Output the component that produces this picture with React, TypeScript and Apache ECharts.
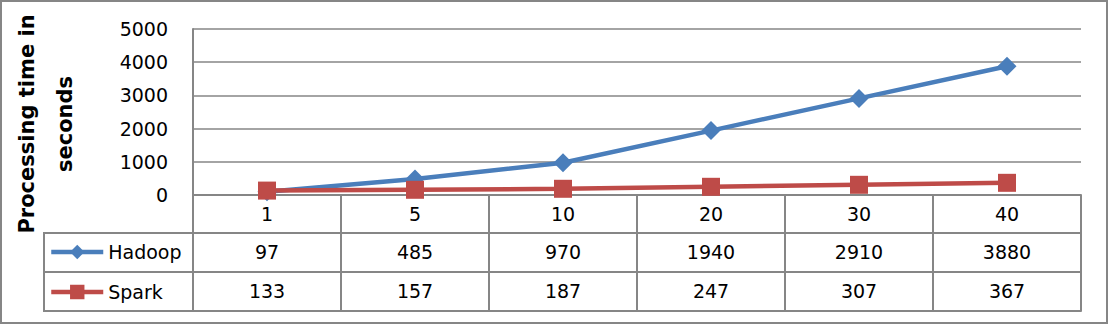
import React, { useEffect, useRef } from "react";
import * as echarts from "echarts";

const categories = ["1", "5", "10", "20", "30", "40"];
const hadoop = [97, 485, 970, 1940, 2910, 3880];
const spark = [133, 157, 187, 247, 307, 367];
const yMin = 0;
const yMax = 5000;
const yInterval = 1000;

const FONT = "DejaVu Sans";
const GRAY = "#868686";
const BLUE = "#4A7EBB";
const RED = "#BE4B48";
const FS = 19;

export default function App() {
  const ref = useRef<HTMLDivElement>(null);

  useEffect(() => {
    const chart = echarts.init(ref.current!, null, { renderer: "svg" });

    const tableAxis = (offset: number, labels: string[], showLabel: boolean, tickLen: number) => ({
      type: "category",
      gridIndex: 0,
      position: "bottom",
      offset,
      data: labels,
      boundaryGap: true,
      axisLine: { show: true, lineStyle: { color: GRAY, width: 2 } },
      axisTick: {
        show: tickLen > 0,
        length: tickLen,
        interval: 0,
        alignWithLabel: false,
        lineStyle: { color: GRAY, width: 2 },
      },
      axisLabel: {
        show: showLabel,
        interval: 0,
        margin: 9,
        fontFamily: FONT,
        fontSize: FS,
        color: "#000",
      },
      splitLine: { show: false },
    });

    chart.setOption({
      animation: false,
      backgroundColor: "#fff",
      grid: { left: 193, right: 29, top: 29, bottom: 131, containLabel: false },
      legend: {
        orient: "vertical",
        left: 49,
        top: 242,
        padding: 0,
        itemWidth: 52,
        itemHeight: 18,
        itemGap: 20,
        lineStyle: { width: 4.5 },
        textStyle: { fontFamily: FONT, fontSize: FS, color: "#000", lineHeight: 20 },
        data: ["Hadoop", "Spark"],
      },
      xAxis: [
        tableAxis(0, categories, true, 38),
        tableAxis(38, hadoop.map(String), true, 39),
        tableAxis(77, spark.map(String), true, 39),
        tableAxis(116, categories, false, 0),
      ],
      yAxis: {
        type: "value",
        min: yMin,
        max: yMax,
        interval: yInterval,
        axisLine: { show: true, lineStyle: { color: GRAY, width: 2 } },
        axisTick: { show: false },
        axisLabel: {
          margin: 25,
          fontFamily: FONT,
          fontSize: FS,
          color: "#000",
          formatter: (v: number) => String(v),
        },
        splitLine: { show: true, lineStyle: { color: GRAY, width: 1.5 } },
      },
      series: [
        {
          name: "Hadoop",
          type: "line",
          data: hadoop,
          symbol: "diamond",
          symbolSize: 19,
          lineStyle: { color: BLUE, width: 4.5 },
          itemStyle: { color: BLUE },
        },
        {
          name: "Spark",
          type: "line",
          data: spark,
          symbol: "rect",
          symbolSize: 18,
          lineStyle: { color: RED, width: 4.5 },
          itemStyle: { color: RED },
        },
      ],
      graphic: [
        {
          type: "rect",
          shape: { x: 1, y: 1, width: 1106, height: 322 },
          style: { fill: "none", stroke: GRAY, lineWidth: 2 },
          silent: true,
        },
        { type: "line", shape: { x1: 44, y1: 233, x2: 193, y2: 233 }, style: { stroke: GRAY, lineWidth: 2 } },
        { type: "line", shape: { x1: 44, y1: 272, x2: 193, y2: 272 }, style: { stroke: GRAY, lineWidth: 2 } },
        { type: "line", shape: { x1: 44, y1: 311, x2: 193, y2: 311 }, style: { stroke: GRAY, lineWidth: 2 } },
        { type: "line", shape: { x1: 44, y1: 232, x2: 44, y2: 312 }, style: { stroke: GRAY, lineWidth: 2 } },
        {
          type: "text",
          x: 46,
          y: 124,
          rotation: Math.PI / 2,
          style: {
            text: "Processing time in\nseconds",
            fontFamily: FONT,
            fontWeight: "bold",
            fontSize: 21,
            lineHeight: 38,
            fill: "#000",
            align: "center",
            verticalAlign: "middle",
          },
        },
      ],
    });

    return () => chart.dispose();
  }, []);

  return (
    <div
      ref={ref}
      style={{ position: "absolute", left: 0, top: 0, width: 1110, height: 326, background: "#fff" }}
    />
  );
}
